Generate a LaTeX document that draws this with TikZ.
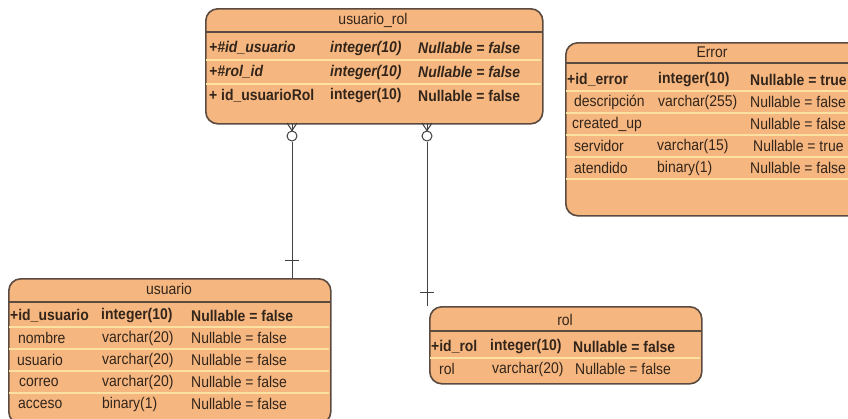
\documentclass[tikz,border=0pt]{standalone}
\usepackage{fontspec}
\setmainfont{Liberation Sans}[FakeStretch=0.9]
\definecolor{tblfill}{HTML}{F5B680}
\definecolor{tblline}{HTML}{5A4A40}
\definecolor{rowline}{HTML}{FCE2A2}
\definecolor{tbltext}{HTML}{33251A}
\tikzset{
  tbl/.style={draw=tblline, line width=1.6pt, fill=tblfill, rounded corners=12pt, inner sep=0pt, anchor=north west},
  cell/.style={anchor=west, inner sep=0pt, text=tbltext, font=\fontsize{15.5}{17}\selectfont},
  key/.style={cell, font=\fontsize{15.5}{17}\selectfont\bfseries},
  fkey/.style={cell, font=\fontsize{15.5}{17}\selectfont\bfseries\itshape},
  title/.style={cell, anchor=center},
  rowsep/.style={rowline, line width=1.5pt},
  headsep/.style={tblline, line width=1.4pt},
  rel/.style={draw=black!75, line width=1pt},
  opt/.style={circle, draw=black!75, line width=1pt, fill=white, minimum size=10pt, inner sep=0pt}
}
\begin{document}
\begin{tikzpicture}[x=1pt, y=-1pt]
            \useasboundingbox (0,0) rectangle (848,418);

            % usuario_rol
            \node[tbl, minimum width=337pt, minimum height=115pt] (usuariorol) at (205,8) {};
            \draw[headsep] (205,32) -- (542,32);
            \foreach \y in {60,84} \draw[rowsep] (206,\y) -- (541,\y);
            \node[title] (urt) at (373,20) {usuario\_rol};
            \node[fkey] (ur11) at (209,48) {+\#id\_usuario}; \node[fkey] (ur12) at (330,48) {integer(10)}; \node[fkey] (ur13) at (418,48) {Nullable = false};
            \node[fkey] (ur21) at (209,72) {+\#rol\_id}; \node[fkey] (ur22) at (330,72) {integer(10)}; \node[fkey] (ur23) at (418,72) {Nullable = false};
            \node[key] (ur31) at (209,96) {+ id\_usuarioRol}; \node[key] (ur32) at (330,96) {integer(10)}; \node[key] (ur33) at (418,96) {Nullable = false};

            % Error
            \node[tbl, minimum width=295pt, minimum height=173pt] (error) at (565,42) {};
            \draw[headsep] (565,63) -- (860,63);
            \foreach \y in {91,113,135,157,179} \draw[rowsep] (566,\y) -- (859,\y);
            \node[title] (ert) at (712,52) {Error};
            \node[key] (er11) at (567,80) {+id\_error}; \node[key] (er12) at (658,80) {integer(10)}; \node[key] (er13) at (750,80) {Nullable = true};
            \node[cell] (er21) at (574,102) {descripción}; \node[cell] (er22) at (658,102) {varchar(255)}; \node[cell] (er23) at (750,102) {Nullable = false};
            \node[cell] (er31) at (572,124) {created\_up}; \node[cell] (er33) at (750,124) {Nullable = false};
            \node[cell] (er41) at (574,146) {servidor}; \node[cell] (er42) at (657,146) {varchar(15)}; \node[cell] (er43) at (753,146) {Nullable = true};
            \node[cell] (er51) at (574,168) {atendido}; \node[cell] (er52) at (657,168) {binary(1)}; \node[cell] (er53) at (750,168) {Nullable = false};

            % usuario
            \node[tbl, minimum width=322pt, minimum height=145pt] (usuario) at (8,278) {};
            \draw[headsep] (8,302) -- (330,302);
            \foreach \y in {327,349,371,393} \draw[rowsep] (9,\y) -- (329,\y);
            \node[title] (ut) at (169,289) {usuario};
            \node[key] (u11) at (10,316) {+id\_usuario}; \node[key] (u12) at (101,316) {integer(10)}; \node[key] (u13) at (191,316) {Nullable = false};
            \node[cell] (u21) at (18,338) {nombre}; \node[cell] (u22) at (102,338) {varchar(20)}; \node[cell] (u23) at (191,338) {Nullable = false};
            \node[cell] (u31) at (17,360) {usuario}; \node[cell] (u32) at (102,360) {varchar(20)}; \node[cell] (u33) at (191,360) {Nullable = false};
            \node[cell] (u41) at (19,382) {correo}; \node[cell] (u42) at (102,382) {varchar(20)}; \node[cell] (u43) at (191,382) {Nullable = false};
            \node[cell] (u51) at (18,404) {acceso}; \node[cell] (u52) at (102,404) {binary(1)}; \node[cell] (u53) at (191,404) {Nullable = false};

            % rol
            \node[tbl, minimum width=272pt, minimum height=77pt] (rol) at (429,306) {};
            \draw[headsep] (429,331) -- (701,331);
            \draw[rowsep] (430,358) -- (700,358);
            \node[title] (rt) at (565,320) {rol};
            \node[key] (r11) at (431,347) {+id\_rol}; \node[key] (r12) at (490,347) {integer(10)}; \node[key] (r13) at (573,347) {Nullable = false};
            \node[cell] (r21) at (439,369) {rol}; \node[cell] (r22) at (492,369) {varchar(20)}; \node[cell] (r23) at (575,369) {Nullable = false};

            % relations
            \coordinate (usuariotop) at (292,278);
            \coordinate (roltop) at (427,306);
            \node[opt] (o1) at (292,136) {};
            \node[opt] (o2) at (427,136) {};
            \draw[rel] (287,123) -- (o1.north) -- (297,123); \draw[rel] (292,123) -- (o1.north);
            \draw[rel] (422,123) -- (o2.north) -- (432,123); \draw[rel] (427,123) -- (o2.north);
            \draw[rel] (o1) -- (usuariotop); \draw[rel] (o2) -- (roltop);
            \draw[rel] (285,260) -- (299,260);
            \draw[rel] (420,292) -- (434,292);
        \end{tikzpicture}
\end{document}
